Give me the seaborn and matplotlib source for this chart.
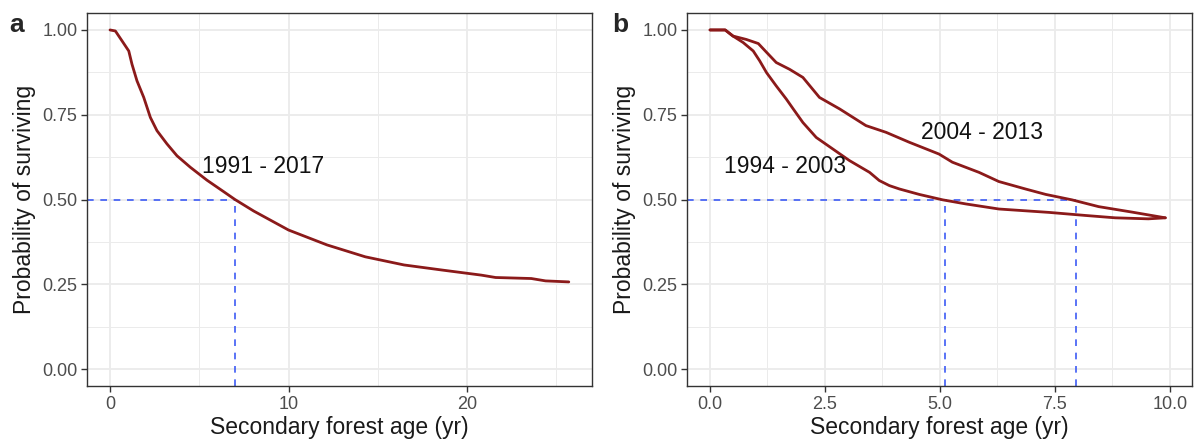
import matplotlib
matplotlib.use("Agg")
import matplotlib.pyplot as plt
import seaborn as sns
import pandas as pd
from matplotlib.ticker import MultipleLocator

# ---- data ----
age_a = [0.0, 0.3, 0.67, 1.05, 1.23, 1.51, 1.89, 2.26, 2.63, 3.19, 3.75, 4.5,
         5.43, 6.37, 7.0, 8.05, 10.0, 12.16, 14.3, 16.47, 18.6, 20.8, 21.6,
         23.6, 24.4, 25.7]
surv_a = [1.0, 0.997, 0.968, 0.938, 0.899, 0.85, 0.801, 0.742, 0.703, 0.664, 0.629, 0.595,
          0.557, 0.523, 0.5, 0.466, 0.41, 0.366, 0.331, 0.307, 0.292, 0.277, 0.27,
          0.267, 0.26, 0.257]

age_b1 = [0.0, 0.33, 0.5, 0.72, 0.94, 1.08, 1.23, 1.44, 1.66, 1.81, 2.02, 2.31,
          2.67, 3.03, 3.47, 3.68, 3.9, 4.12, 4.55, 5.06, 5.56, 6.28, 7.37, 8.16,
          8.81, 9.53, 9.9]
surv_b1 = [1.0, 1.0, 0.982, 0.963, 0.938, 0.909, 0.874, 0.835, 0.796, 0.767, 0.727, 0.683,
           0.649, 0.615, 0.58, 0.556, 0.541, 0.531, 0.515, 0.499, 0.487, 0.472, 0.462, 0.453,
           0.446, 0.443, 0.446]

age_b2 = [0.0, 0.33, 0.5, 0.79, 1.05, 1.23, 1.44, 1.73, 2.02, 2.38, 2.82, 3.39,
          3.83, 4.33, 4.98, 5.27, 5.85, 6.28, 6.86, 7.3, 7.87, 8.45, 9.17, 9.9]
surv_b2 = [1.0, 1.0, 0.982, 0.972, 0.96, 0.934, 0.904, 0.884, 0.86, 0.801, 0.767, 0.718,
           0.698, 0.669, 0.634, 0.61, 0.58, 0.553, 0.531, 0.515, 0.499, 0.479, 0.463, 0.446]

median_a = [7.0]
median_b = [5.12, 7.95]
labels_a = ["1991 - 2017"]
labels_b = ["1994 - 2003", "2004 - 2013"]
panel_tags = ["a", "b"]
xlabel = "Secondary forest age (yr)"
ylabel = "Probability of surviving"

# ---- style ----
sns.set_theme(style="white")
plt.rcParams["font.family"] = ["Liberation Sans", "DejaVu Sans"]

LINE = "#8B1A1A"
DASH = "#3D5BF5"
GRID = "#EBEBEB"

fig = plt.figure(figsize=(11.95, 4.44), dpi=100)
ax_a = fig.add_axes([0.0728, 0.1306, 0.4226, 0.8401])
ax_b = fig.add_axes([0.5749, 0.1306, 0.4226, 0.8401])

df_a = pd.DataFrame({"age": age_a, "surv": surv_a, "grp": labels_a[0]})
df_b = pd.concat([
    pd.DataFrame({"age": age_b1, "surv": surv_b1, "grp": labels_b[0]}),
    pd.DataFrame({"age": age_b2, "surv": surv_b2, "grp": labels_b[1]}),
])

sns.lineplot(data=df_a, x="age", y="surv", units="grp", estimator=None,
             color=LINE, lw=2.0, ax=ax_a, zorder=3)
sns.lineplot(data=df_b, x="age", y="surv", units="grp", estimator=None,
             color=LINE, lw=2.0, ax=ax_b, zorder=3)


def style_axes(ax, xmaj, xmin, xlim, fmt):
    ax.set_xlim(*xlim)
    ax.set_ylim(-0.05, 1.05)
    ax.xaxis.set_major_locator(MultipleLocator(xmaj))
    ax.xaxis.set_minor_locator(MultipleLocator(xmin))
    ax.yaxis.set_major_locator(MultipleLocator(0.25))
    ax.yaxis.set_minor_locator(MultipleLocator(0.125))
    ax.xaxis.set_major_formatter(plt.FuncFormatter(lambda v, p: fmt.format(v)))
    ax.yaxis.set_major_formatter(plt.FuncFormatter(lambda v, p: f"{v:.2f}"))
    ax.grid(which="major", color=GRID, lw=1.3, zorder=0)
    ax.grid(which="minor", color=GRID, lw=0.7, zorder=0)
    ax.set_axisbelow(True)
    for s in ax.spines.values():
        s.set_color("#333333")
        s.set_linewidth(1.0)
    ax.tick_params(which="major", length=4, width=1.0, color="#333333",
                   labelsize=13, labelcolor="#4D4D4D", pad=3,
                   bottom=True, left=True)
    ax.tick_params(which="minor", length=0)
    ax.set_xlabel(xlabel, fontsize=16.5, color="#1A1A1A", labelpad=2)
    ax.set_ylabel(ylabel, fontsize=16.5, color="#1A1A1A", labelpad=4)


style_axes(ax_a, 10, 5, (-1.29, 27.0), "{:.0f}")
style_axes(ax_b, 2.5, 1.25, (-0.5, 10.48), "{:.1f}")

# median dashed guides
dash_kw = dict(color=DASH, lw=1.2, ls=(0, (4, 4)), zorder=2)
for m in median_a:
    ax_a.plot([-1.29, m], [0.5, 0.5], **dash_kw)
    ax_a.plot([m, m], [-0.05, 0.5], **dash_kw)
ax_b.plot([-0.5, max(median_b)], [0.5, 0.5], **dash_kw)
for m in median_b:
    ax_b.plot([m, m], [-0.05, 0.5], **dash_kw)

# curve labels
ax_a.text(8.55, 0.596, labels_a[0], fontsize=16.5, ha="center", va="center", color="#111111")
ax_b.text(1.63, 0.596, labels_b[0], fontsize=16.5, ha="center", va="center", color="#111111")
ax_b.text(5.92, 0.699, labels_b[1], fontsize=16.5, ha="center", va="center", color="#111111")

# panel tags
fig.text(0.008, 0.943, panel_tags[0], fontsize=19, fontweight="bold", va="center")
fig.text(0.512, 0.943, panel_tags[1], fontsize=19, fontweight="bold", va="center")

fig.savefig("out.png", dpi=100)
